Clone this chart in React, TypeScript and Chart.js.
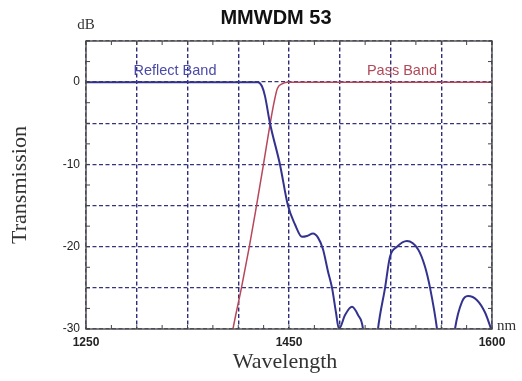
import React, { useEffect, useRef } from "react";
import { Chart, registerables } from "chart.js";

Chart.register(...registerables);

const chartTitle = "MMWDM 53";
const yUnit = "dB";
const xUnit = "nm";
const yTitle = "Transmission";
const xTitle = "Wavelength";

// Reflect band (blue) wavelength/dB samples
const reflectX = [1250, 1398.3, 1401.7, 1404.3, 1408.6, 1417.2, 1424.1, 1430.2, 1436.2, 1440.5, 1445.7, 1450.0, 1454.3, 1458.6, 1462.1, 1465.5, 1468.1, 1473.3, 1479.3, 1484.5, 1488.8, 1494.8, 1501.7, 1507.8, 1512.1, 1518.1, 1526.7, 1536.2, 1542.2, 1546.6, 1552.6, 1560.3, 1568.1, 1574.1, 1579.3, 1587.1, 1594.0, 1600];
const reflectY = [0, 0, -0.5, -1.7, -5, -10, -15, -17.3, -18.8, -18.7, -18.4, -18.9, -20.3, -23, -25, -28, -30, -28.3, -27.3, -28.3, -30, -40, -30, -25, -21.2, -20, -19.3, -20.3, -22.4, -25, -30, -40, -30, -26.7, -26, -26.5, -28, -30.3];

// Pass band (red)
const passX = [1372.0, 1376.7, 1384.0, 1390.8, 1397.0, 1403.0, 1408.8, 1412.2, 1414.9, 1419.0, 1423.3, 1600];
const passY = [-34, -30, -25, -20, -15, -10, -5, -2.4, -0.8, -0.2, 0, 0];

const xTickLabels = ["1250", "", "", "", "1450", "", "", "", "1600"];
const yLabelValues = [0, -10, -20, -30];

const bandLabels = [
  { text: "Reflect Band", x: 1326.7, y: 1.3, color: "#4a4aa8" },
  { text: "Pass Band", x: 1522.4, y: 1.3, color: "#b04a58" },
];

const BLUE = "#33338f";
const RED = "#b8475a";

export default function App() {
  const ref = useRef<HTMLCanvasElement>(null);
  useEffect(() => {
    document.body.style.margin = "0";
    const canvas = ref.current!;
    const decor = {
      id: "decor",
      afterDatasetsDraw(chart: any) {
        const { ctx, chartArea: a, scales } = chart;
        const xs = scales.x, ys = scales.y;
        ctx.save();
        // band labels
        ctx.font = "14.5px 'Liberation Sans', Arial, sans-serif";
        ctx.textAlign = "center";
        ctx.textBaseline = "middle";
        bandLabels.forEach((b) => {
          ctx.fillStyle = b.color;
          ctx.fillText(b.text, xs.getPixelForValue(b.x), ys.getPixelForValue(b.y));
        });
        // frame
        ctx.strokeStyle = "#555";
        ctx.lineWidth = 1.5;
        ctx.strokeRect(a.left, a.top, a.right - a.left, a.bottom - a.top);
        // inward ticks
        ctx.lineWidth = 1;
        ctx.strokeStyle = "#444";
        const xStep = 43.75 / 2;
        for (let v = xs.min; v <= xs.max + 0.01; v += xStep) {
          const px = xs.getPixelForValue(v);
          ctx.beginPath();
          ctx.moveTo(px, a.bottom);
          ctx.lineTo(px, a.bottom - 4);
          ctx.moveTo(px, a.top);
          ctx.lineTo(px, a.top + 4);
          ctx.stroke();
        }
        for (let v = ys.min; v <= ys.max + 0.01; v += 2.5) {
          const py = ys.getPixelForValue(v);
          ctx.beginPath();
          ctx.moveTo(a.left, py);
          ctx.lineTo(a.left + 4, py);
          ctx.moveTo(a.right, py);
          ctx.lineTo(a.right - 4, py);
          ctx.stroke();
        }
        // texts
        ctx.fillStyle = "#111";
        ctx.font = "bold 20px 'Liberation Sans', Arial, sans-serif";
        ctx.fillText(chartTitle, 276, 18);
        ctx.fillStyle = "#333";
        ctx.font = "15px 'Liberation Serif', 'Times New Roman', serif";
        ctx.fillText(yUnit, a.left, 25);
        ctx.textAlign = "left";
        ctx.fillText(xUnit, a.right + 5, a.bottom - 3);
        ctx.textAlign = "center";
        ctx.font = "22px 'Liberation Serif', 'Times New Roman', serif";
        ctx.fillText(xTitle, 285, 362);
        ctx.translate(20, (a.top + a.bottom) / 2);
        ctx.rotate(-Math.PI / 2);
        ctx.fillText(yTitle, 0, 0);
        ctx.restore();
      },
    };
    const chart = new Chart(canvas, {
      type: "line",
      data: {
        datasets: [
          {
            label: "Reflect Band",
            data: reflectX.map((x, i) => ({ x, y: reflectY[i] })),
            borderColor: BLUE,
            borderWidth: 2,
            pointRadius: 0,
            cubicInterpolationMode: "monotone",
          },
          {
            label: "Pass Band",
            data: passX.map((x, i) => ({ x, y: passY[i] })),
            borderColor: RED,
            borderWidth: 1.5,
            pointRadius: 0,
            cubicInterpolationMode: "monotone",
          },
        ],
      },
      options: {
        animation: false,
        responsive: false,
        layout: { padding: { left: 0, right: 30, top: 41, bottom: 0 } },
        plugins: { legend: { display: false }, tooltip: { enabled: false } },
        scales: {
          x: {
            type: "linear",
            min: 1250,
            max: 1600,
            afterFit: (s: any) => { s.height = 52; },
            ticks: {
              stepSize: 43.75,
              autoSkip: false,
              maxRotation: 0,
              padding: 6,
              color: "#222",
              font: { family: "'Liberation Sans', Arial, sans-serif", size: 12, weight: "bold" },
              callback: (_v: any, i: number) => xTickLabels[i] ?? "",
            },
            grid: { color: "#2e2e78", lineWidth: 1.4, drawTicks: false },
            border: { display: false, dash: [4, 2.5] },
          },
          y: {
            min: -30,
            max: 5,
            afterFit: (s: any) => { s.width = 86; },
            ticks: {
              stepSize: 5,
              autoSkip: false,
              padding: 6,
              color: "#222",
              font: { family: "'Liberation Sans', Arial, sans-serif", size: 12 },
              callback: (v: any) => (yLabelValues.includes(v) ? String(v) : ""),
            },
            grid: { color: "#34347e", lineWidth: 1.3, drawTicks: false },
            border: { display: false, dash: [4, 2.5] },
          },
        },
      },
      plugins: [decor],
    });
    return () => chart.destroy();
  }, []);
  return <canvas ref={ref} width={522} height={381} style={{ display: "block" }} />;
}
